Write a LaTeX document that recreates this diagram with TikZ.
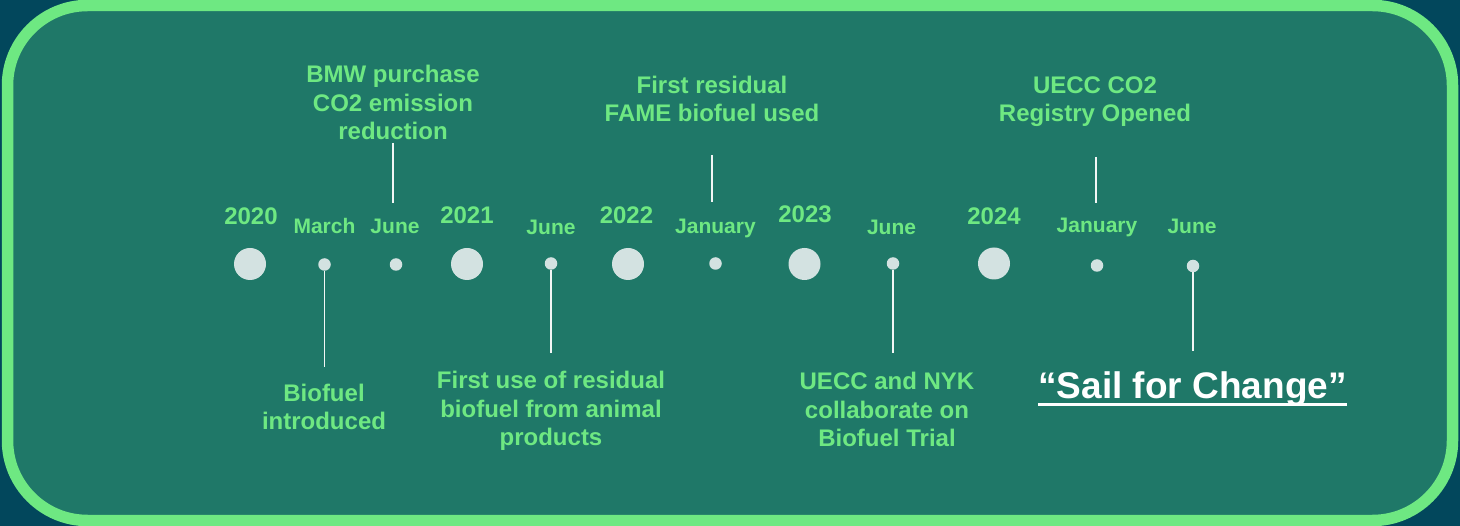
\documentclass[tikz,border=0pt]{standalone}
\usepackage{fontspec}
\setmainfont{Liberation Sans}
\definecolor{outerbg}{HTML}{02475C}
\definecolor{panel}{HTML}{1F7868}
\definecolor{lgreen}{HTML}{6EE882}
\definecolor{dotc}{HTML}{D3E2E1}
\definecolor{linec}{HTML}{F2F6F5}
\begin{document}
\begin{tikzpicture}[x=1pt,y=-1pt,
  bigdot/.style={circle,fill=dotc,draw=none,minimum size=32pt,inner sep=0pt},
  smalldot/.style={circle,fill=dotc,draw=none,minimum size=12.5pt,inner sep=0pt},
  yearlbl/.style={font=\fontsize{24}{28}\selectfont\bfseries,text=lgreen,anchor=base,inner sep=0pt},
  monthlbl/.style={font=\fontsize{21}{25}\selectfont\bfseries,text=lgreen,anchor=base,inner sep=0pt},
  eventlbl/.style={font=\fontsize{24}{28.5}\selectfont\bfseries,text=lgreen,anchor=base,inner sep=0pt,align=center},
  conn/.style={draw=linec,line width=1.3pt}]
\fill[outerbg] (0,0) rectangle (1460,526);
\useasboundingbox (0,0) rectangle (1460,526);
\draw[lgreen,line width=11.5pt,fill=panel,rounded corners=80pt] (7.5,5.5) rectangle (1452.5,520.5);

% dots
\node[bigdot] (d2020) at (250,264) {};
\node[smalldot] (dmar20) at (324.5,264.5) {};
\node[smalldot] (djun20) at (396,264.5) {};
\node[bigdot] (d2021) at (467,264) {};
\node[smalldot] (djun21) at (551,263.5) {};
\node[bigdot] (d2022) at (628,264) {};
\node[smalldot] (djan22) at (715.5,263.5) {};
\node[bigdot] (d2023) at (804.5,264) {};
\node[smalldot] (djun23) at (893,263.5) {};
\node[bigdot] (d2024) at (994,263.5) {};
\node[smalldot] (djan24) at (1097,265.5) {};
\node[smalldot] (djun24) at (1193,266) {};

% year labels
\node[yearlbl] (y2020) at (251,225) {2020};
\node[yearlbl] (y2021) at (467,224) {2021};
\node[yearlbl] (y2022) at (626.5,224) {2022};
\node[yearlbl] (y2023) at (805,223) {2023};
\node[yearlbl] (y2024) at (994,225) {2024};

% month labels
\node[monthlbl] (mmar20) at (324.5,234) {March};
\node[monthlbl] (mjun20) at (395,234) {June};
\node[monthlbl] (mjun21) at (551,235) {June};
\node[monthlbl] (mjan22) at (715.5,234) {January};
\node[monthlbl] (mjun23) at (891.5,235) {June};
\node[monthlbl] (mjan24) at (1097,233) {January};
\node[monthlbl] (mjun24) at (1192,234) {June};

% events (anchor base = baseline of last line)
\node[eventlbl] (ebmw) at (393,140) {BMW purchase\\CO2 emission\\reduction};
\node[eventlbl] (ebio) at (324,430) {Biofuel\\introduced};
\node[eventlbl] (eres) at (551,446) {First use of residual\\biofuel from animal\\products};
\node[eventlbl] (efame) at (712,122) {First residual\\FAME biofuel used};
\node[eventlbl] (enyk) at (887,447) {UECC and NYK\\collaborate on\\Biofuel Trial};
\node[eventlbl] (ereg) at (1095,122) {UECC CO2\\Registry Opened};
\node[font=\fontsize{37}{44}\selectfont\bfseries,text=white,anchor=base,inner sep=0pt] (esail) at (1192.5,399) {“Sail for Change”};
\draw[white,line width=3.5pt] ([yshift=-5.5pt]esail.base west) -- ([yshift=-5.5pt]esail.base east);

% connector ends
\coordinate (cmar) at (324.5,367);
\coordinate (cjun21) at (551,353);
\coordinate (cjun23) at (893,353);
\coordinate (cjun24) at (1193,351);
\coordinate (tbmwa) at (393,143);
\coordinate (tbmwb) at (393,203);
\coordinate (tfamea) at (712,155);
\coordinate (tfameb) at (712,202);
\coordinate (trega) at (1096,157);
\coordinate (tregb) at (1096,203);

\draw[conn] (dmar20.south) -- (dmar20.south |- cmar);
\draw[conn] (djun21.south) -- (djun21.south |- cjun21);
\draw[conn] (djun23.south) -- (djun23.south |- cjun23);
\draw[conn] (djun24.south) -- (djun24.south |- cjun24);
\draw[conn] (tbmwa) -- (tbmwb);
\draw[conn] (tfamea) -- (tfameb);
\draw[conn] (trega) -- (tregb);
\end{tikzpicture}
\end{document}
